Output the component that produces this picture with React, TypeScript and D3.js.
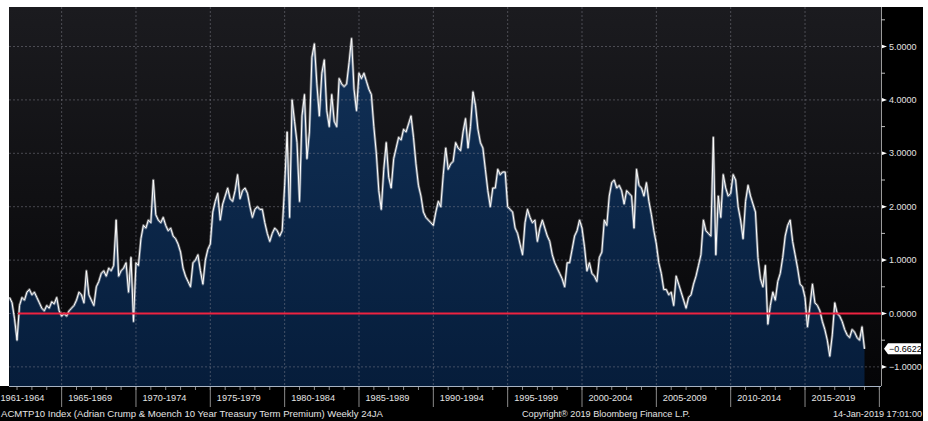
import React from "react";
import * as d3 from "d3";

// ACM 10y term premium, one value every 2 months per block
const blockStarts = [1961.5, 1965, 1970, 1975, 1980, 1985, 1990, 1995, 2000, 2005, 2010, 2015];
const stepYears = 1 / 6;

const tp1961 = [0.3, 0.2, -0.1, -0.5, 0.15, 0.3, 0.25, 0.4, 0.45, 0.35, 0.4, 0.3, 0.2, 0.1, 0.05, 0.15, 0.1, 0.22, 0.18, 0.3, 0.05];
const tp1965 = [-0.05, 0.0, -0.05, 0.05, 0.1, 0.15, 0.25, 0.4, 0.35, 0.2, 0.8, 0.35, 0.25, 0.15, 0.5, 0.6, 0.75, 0.8, 0.7, 0.85, 0.8, 0.9, 1.75, 0.7, 0.8, 0.85, 0.95, 0.4, 1.05, -0.15];
const tp1970 = [0.95, 0.9, 1.4, 1.65, 1.6, 1.75, 1.7, 2.5, 1.85, 1.75, 1.7, 1.8, 1.65, 1.55, 1.6, 1.45, 1.4, 1.3, 1.15, 0.85, 0.7, 0.6, 0.5, 0.95, 1.0, 1.1, 0.8, 0.55, 1.0, 1.2];
const tp1975 = [1.3, 1.9, 2.1, 2.25, 1.75, 2.05, 2.2, 2.35, 2.15, 2.1, 2.3, 2.6, 2.15, 2.3, 2.35, 2.25, 2.0, 1.8, 1.95, 2.0, 1.95, 1.95, 1.7, 1.5, 1.35, 1.5, 1.6, 1.55, 1.45, 1.55];
const tp1980 = [2.4, 3.4, 1.8, 4.0, 3.6, 3.2, 2.1, 3.7, 4.1, 2.9, 3.4, 4.8, 5.05, 4.3, 3.7, 4.5, 4.75, 3.8, 3.5, 4.1, 3.6, 3.5, 4.4, 4.3, 4.25, 4.3, 4.7, 5.15, 4.2, 3.8];
const tp1985 = [4.5, 4.4, 4.5, 4.35, 4.2, 4.1, 3.5, 3.0, 2.3, 1.95, 2.7, 3.2, 2.55, 2.35, 2.9, 3.1, 3.3, 3.25, 3.45, 3.4, 3.55, 3.7, 3.3, 2.8, 2.4, 2.2, 1.9, 1.8, 1.75, 1.7];
const tp1990 = [1.65, 1.9, 2.1, 2.0, 2.6, 3.1, 2.7, 2.8, 2.85, 3.2, 3.1, 3.05, 3.4, 3.65, 3.1, 3.5, 4.15, 3.9, 3.45, 3.2, 3.1, 2.7, 2.3, 2.0, 2.35, 2.35, 2.7, 2.6, 2.65, 2.65];
const tp1995 = [2.0, 1.95, 1.9, 1.6, 1.5, 1.3, 1.1, 1.7, 1.95, 1.8, 1.7, 1.75, 1.35, 1.6, 1.75, 1.6, 1.45, 1.35, 1.1, 0.95, 0.85, 0.75, 0.65, 0.5, 0.95, 0.95, 1.2, 1.45, 1.55, 1.75];
const tp2000 = [1.6, 1.25, 0.8, 0.95, 0.75, 0.7, 0.6, 1.05, 1.15, 1.75, 1.65, 2.2, 2.45, 2.5, 2.35, 2.4, 2.3, 2.05, 2.3, 2.25, 2.2, 1.6, 2.7, 2.4, 2.35, 2.2, 2.45, 2.1, 1.85, 1.55];
const tp2005 = [1.3, 0.95, 0.75, 0.45, 0.45, 0.35, 0.4, 0.15, 0.7, 0.55, 0.4, 0.25, 0.1, 0.3, 0.35, 0.55, 0.7, 0.9, 1.1, 1.75, 1.55, 1.5, 1.45, 3.3, 1.1, 2.2, 1.8, 2.6, 2.35, 2.2];
const tp2010 = [2.25, 2.6, 2.5, 2.0, 1.75, 1.4, 2.1, 2.4, 2.2, 2.05, 1.9, 1.05, 0.65, 0.5, 0.9, -0.2, 0.15, 0.4, 0.25, 0.6, 0.75, 1.05, 1.45, 1.65, 1.75, 1.35, 1.1, 0.85, 0.55, 0.5];
const tp2015 = [0.3, -0.25, 0.15, 0.55, 0.2, 0.15, 0.05, -0.15, -0.3, -0.5, -0.8, -0.4, 0.2, 0.0, -0.05, -0.15, -0.3, -0.4, -0.45, -0.3, -0.35, -0.45, -0.5, -0.25, -0.6622];

const blocks = [tp1961, tp1965, tp1970, tp1975, tp1980, tp1985, tp1990, tp1995, tp2000, tp2005, tp2010, tp2015];

const periodLabels = ["1961-1964", "1965-1969", "1970-1974", "1975-1979", "1980-1984", "1985-1989", "1990-1994", "1995-1999", "2000-2004", "2005-2009", "2010-2014", "2015-2019"];
const periodBounds = [1965, 1970, 1975, 1980, 1985, 1990, 1995, 2000, 2005, 2010, 2015, 2020];
const yTicks = [-1, 0, 1, 2, 3, 4, 5];
const yMinorTicks = [-0.5, 0.5, 1.5, 2.5, 3.5, 4.5, 5.5];
const lastValue = -0.6622;
const zeroLineStart = 1962.07;

const footerLeft = "ACMTP10 Index (Adrian Crump & Moench 10 Year Treasury Term Premium)  Weekly 24JA";
const footerMid = "Copyright\u00ae 2019 Bloomberg Finance L.P.";
const footerRight = "14-Jan-2019 17:01:00";

type Pt = { t: number; v: number };

export default function App() {
  const W = 928;
  const H = 421;
  const plot = { left: 9, top: 7, right: 881, bottom: 386 };
  const font = "'Liberation Sans', Arial, sans-serif";

  const data: Pt[] = blocks.flatMap((arr, k) =>
    arr.map((v, i) => ({ t: blockStarts[k] + i * stepYears, v }))
  );

  const x = d3.scaleLinear().domain([1961.46, 2020.11]).range([plot.left, plot.right]);
  const y = d3.scaleLinear().domain([-1.358, 5.74]).range([plot.bottom, plot.top]);

  const line = d3.line<Pt>().x((d) => x(d.t)).y((d) => y(d.v));
  const area = d3.area<Pt>().x((d) => x(d.t)).y0(plot.bottom).y1((d) => y(d.v));

  const years = d3.range(1962, 2021);
  const yLast = y(lastValue);

  return (
    <svg width={W} height={H} style={{ position: "absolute", left: 0, top: 0, display: "block" }} fontFamily={font}>
      <defs>
        <linearGradient id="bg" x1="0" y1="0" x2="0" y2="1">
          <stop offset="0%" stopColor="#1b1b1f" />
          <stop offset="100%" stopColor="#050507" />
        </linearGradient>
        <linearGradient id="fill" gradientUnits="userSpaceOnUse" x1="0" y1={plot.top} x2="0" y2={plot.bottom}>
          <stop offset="0%" stopColor="#123259" />
          <stop offset="100%" stopColor="#061d3b" />
        </linearGradient>
        <clipPath id="plotClip">
          <rect x={plot.left} y={plot.top} width={plot.right - plot.left} height={plot.bottom - plot.top} />
        </clipPath>
      </defs>

      <rect x={0} y={0} width={W} height={H} fill="#ffffff" />
      <rect x={0} y={plot.top} width={923} height={H - plot.top} fill="#000000" />
      <rect x={0} y={plot.top} width={plot.left} height={plot.bottom - plot.top} fill="#ffffff" />
      <rect x={plot.left} y={plot.top} width={plot.right - plot.left} height={plot.bottom - plot.top} fill="url(#bg)" />

      <g clipPath="url(#plotClip)">
        <path d={area(data) ?? ""} fill="url(#fill)" />
        {yTicks.map((t) => (
          <line key={t} x1={plot.left} x2={plot.right} y1={y(t)} y2={y(t)} stroke="#8c8c96" strokeOpacity={0.45} strokeDasharray="2,2" />
        ))}
        {periodBounds.slice(0, -1).map((b) => (
          <line key={b} x1={x(b)} x2={x(b)} y1={plot.top} y2={plot.bottom} stroke="#8c8c96" strokeOpacity={0.45} strokeDasharray="2,2" />
        ))}
        <path d={line(data) ?? ""} fill="none" stroke="#ffffff" strokeOpacity={0.4} strokeWidth={2.6} strokeLinejoin="round" />
        <path d={line(data) ?? ""} fill="none" stroke="#ffffff" strokeWidth={1} strokeLinejoin="round" />
        <line x1={x(zeroLineStart)} x2={plot.right} y1={y(0)} y2={y(0)} stroke="#ee2340" strokeWidth={2} />
      </g>

      {/* right axis */}
      <line x1={plot.right + 0.5} x2={plot.right + 0.5} y1={plot.top} y2={plot.bottom} stroke="#9a9a9a" />
      {yMinorTicks.map((t) => (
        <line key={t} x1={plot.right} x2={plot.right + 4} y1={y(t)} y2={y(t)} stroke="#bdbdbd" />
      ))}
      {yTicks.map((t) => (
        <g key={t} transform={`translate(${plot.right},${y(t)})`}>
          <path d="M1,-1.8 L6,0 L1,1.8 Z" fill="#ffffff" />
          <text x={8} dy="0.35em" fontSize={9} fill="#e2e2e2">
            {d3.format(".4f")(t)}
          </text>
        </g>
      ))}
      <path
        d={`M${plot.right + 3},${yLast} L${plot.right + 7},${yLast - 5.5} L${plot.right + 40},${yLast - 5.5} L${plot.right + 40},${yLast + 5.5} L${plot.right + 7},${yLast + 5.5} Z`}
        fill="#ffffff"
      />
      <text x={plot.right + 8} y={yLast} dy="0.35em" fontSize={9} fill="#000000">
        {d3.format(".4f")(lastValue)}
      </text>

      {/* bottom axis */}
      <line x1={plot.left} x2={plot.right} y1={plot.bottom + 0.5} y2={plot.bottom + 0.5} stroke="#a8b4c4" />
      {years.map((yr) => (
        <line key={yr} x1={x(yr)} x2={x(yr)} y1={plot.bottom + 1} y2={plot.bottom + 4} stroke="#8a8a8a" />
      ))}
      {periodBounds.map((b) => (
        <line key={b} x1={x(b)} x2={x(b)} y1={plot.bottom + 1} y2={plot.bottom + 21} stroke="#8a8a8a" />
      ))}
      {periodLabels.map((lab, i) => (
        <text key={lab} x={i === 0 ? 0.5 : x(periodBounds[i - 1]) + 6.5} y={plot.bottom + 15} fontSize={9.2} fill="#e4e4e4">
          {lab}
        </text>
      ))}

      {/* footer */}
      <text x={1} y={417} fontSize={9} fill="#e4e4e4" textLength={382} lengthAdjust="spacingAndGlyphs">
        {footerLeft}
      </text>
      <text x={522} y={417} fontSize={9} fill="#e4e4e4" textLength={168} lengthAdjust="spacingAndGlyphs">
        {footerMid}
      </text>
      <text x={833} y={417} fontSize={9} fill="#e4e4e4" textLength={89} lengthAdjust="spacingAndGlyphs">
        {footerRight}
      </text>
    </svg>
  );
}
